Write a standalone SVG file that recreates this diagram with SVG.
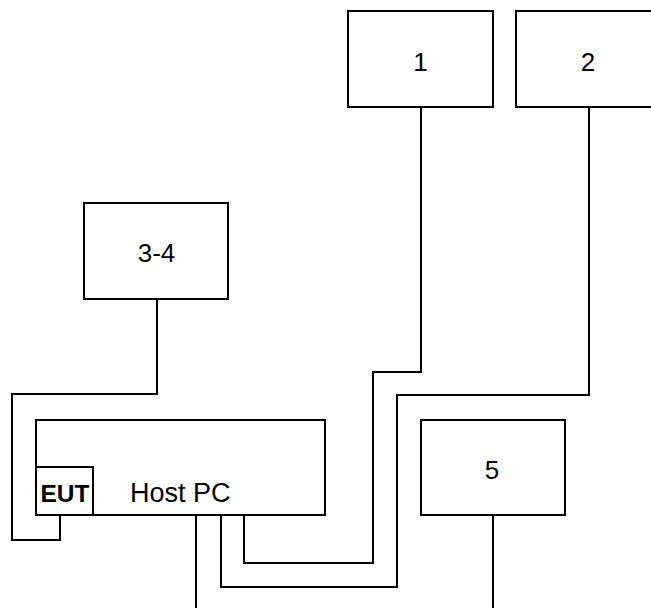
<svg xmlns="http://www.w3.org/2000/svg" width="651" height="608" viewBox="0 0 651 608">
<style>
.box{fill:#fff;stroke:#000;stroke-width:2}
.wire{fill:none;stroke:#000;stroke-width:2}
.lbl{font-family:"Liberation Sans",Arial,sans-serif;font-size:26px;fill:#000}
.host{font-family:"Liberation Sans",Arial,sans-serif;font-size:27px;fill:#000}
.eut{font-family:"Liberation Sans",Arial,sans-serif;font-size:24.5px;font-weight:bold;fill:#000}
</style>
<rect width="651" height="608" fill="#fff"/>
<g id="connectors">
<path class="wire" d="M421,107 V372 H373 V563 H244 V515"/>
<path class="wire" d="M589,107 V395 H397 V587 H221 V515"/>
<path class="wire" d="M157,299 V394 H12 V540 H60 V515"/>
<path class="wire" d="M196,515 V608"/>
<path class="wire" d="M493,515 V608"/>
</g>
<g id="node1"><rect class="box" x="348" y="11" width="145" height="96"/><text class="lbl" x="420.5" y="71" text-anchor="middle">1</text></g>
<g id="node2"><rect class="box" x="516" y="11" width="145" height="96"/><text class="lbl" x="588" y="71" text-anchor="middle">2</text></g>
<g id="node34"><rect class="box" x="84" y="203" width="144" height="96"/><text class="lbl" x="156.5" y="262" text-anchor="middle">3-4</text></g>
<g id="hostpc"><rect class="box" x="36" y="420" width="289" height="95"/><text class="host" x="130" y="501.5">Host PC</text></g>
<g id="eut"><rect class="box" x="36" y="467" width="57" height="48"/><text class="eut" x="40.5" y="502">EUT</text></g>
<g id="node5"><rect class="box" x="421" y="420" width="144" height="95"/><text class="lbl" x="492" y="479" text-anchor="middle">5</text></g>
</svg>
